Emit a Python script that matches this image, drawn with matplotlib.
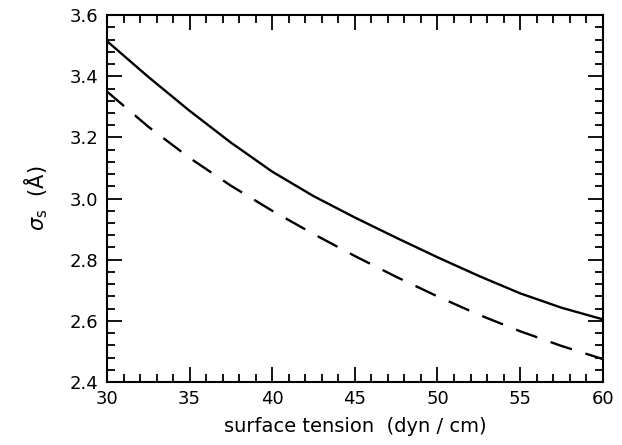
import matplotlib
matplotlib.use("Agg")
import matplotlib.pyplot as plt
from matplotlib.ticker import MultipleLocator

# surface tension (dyn/cm) vs sigma_s (Angstrom)
tension = [30, 32.5, 35, 37.5, 40, 42.5, 45, 47.5, 50, 52.5, 55, 57.5, 60]
sigma_solid = [3.515, 3.398, 3.287, 3.183, 3.088, 3.008, 2.938, 2.872, 2.808, 2.747, 2.690, 2.643, 2.605]
sigma_dashed = [3.35, 3.235, 3.133, 3.042, 2.960, 2.884, 2.812, 2.744, 2.680, 2.620, 2.566, 2.518, 2.475]

plt.rcParams['font.family'] = ['DejaVu Sans']
plt.rcParams['mathtext.fontset'] = 'dejavusans'

fig = plt.figure(figsize=(6.22, 4.45), dpi=100)
ax = fig.add_axes([0.172, 0.1416, 0.797, 0.8244])

ax.plot(tension, sigma_solid, color='black', lw=1.7, solid_joinstyle='round')
ax.plot(tension, sigma_dashed, color='black', lw=1.7, dashes=(9.5, 6))

ax.set_xlim(30, 60)
ax.set_ylim(2.4, 3.6)
ax.xaxis.set_major_locator(MultipleLocator(5))
ax.xaxis.set_minor_locator(MultipleLocator(1))
ax.yaxis.set_major_locator(MultipleLocator(0.2))
ax.yaxis.set_minor_locator(MultipleLocator(0.04))
ax.yaxis.set_major_formatter(matplotlib.ticker.FormatStrFormatter('%.1f'))

ax.tick_params(which='both', direction='in', top=True, right=True, width=1.3, labelsize=13)
ax.tick_params(which='major', length=11, pad=6)
ax.tick_params(which='minor', length=6)
for s in ax.spines.values():
    s.set_linewidth(1.5)

ax.set_xlabel('surface tension  (dyn / cm)', fontsize=14, labelpad=6)
ax.set_ylabel(r'$\sigma_{\rm s}$  (Å)', fontsize=15, labelpad=14)

fig.savefig('out.png', dpi=100)
